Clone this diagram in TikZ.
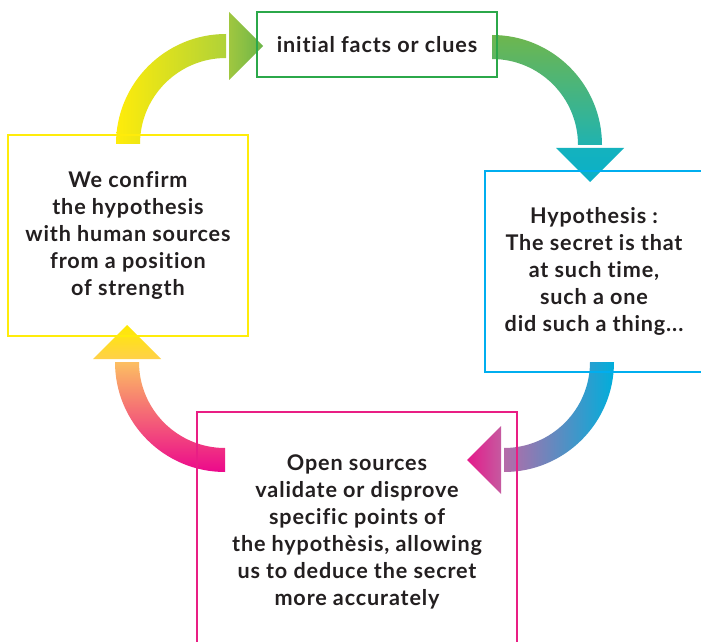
\documentclass[tikz,border=0pt]{standalone}
\usepackage{fontspec}
\setmainfont{Lato}[Ligatures=NoCommon, LetterSpace=4]
\usetikzlibrary{calc}
\definecolor{cycle-text}{RGB}{35, 31, 32}
\definecolor{cycle-green}{RGB}{43, 168, 74}
\definecolor{cycle-yellow}{RGB}{255, 236, 10}
\definecolor{cycle-blue}{RGB}{0, 174, 239}
\definecolor{cycle-magenta}{RGB}{233, 30, 132}

\begin{document}
\begin{tikzpicture}[x=1pt, y=1pt,
    stage/.style={draw, line width=2pt, text=cycle-text, align=center, inner sep=0pt,
      font=\fontsize{21.6}{27}\selectfont\bfseries}]
\clip (0,0) rectangle (701,641);
\fill[white] (0,0) rectangle (701,641);
\coordinate (c1) at (226,497);
\coordinate (c2) at (492,496);
\coordinate (c3) at (504,279);
\coordinate (c4) at (225,279);
\shade[left color=cycle-yellow, right color={rgb,255:red,176;green,210;blue,56}] (c1) ++(180:110) arc[start angle=180, end angle=90, radius=110] -- ++(0,-24) arc[start angle=90, end angle=180, radius=86] -- cycle;
\shade[left color={rgb,255:red,160;green,199;blue,63}, right color={rgb,255:red,108;green,181;blue,74}] ($(c1)+(3,64)$) -- ($(c1)+(3,132)$) -- ($(c1)+(37,98)$) -- cycle;
\shade[top color={rgb,255:red,110;green,182;blue,78}, bottom color={rgb,255:red,32;green,179;blue,176}] (c2) ++(90:110) arc[start angle=90, end angle=0, radius=110] -- ++(-24,0) arc[start angle=0, end angle=90, radius=86] -- cycle;
\shade[top color={rgb,255:red,20;green,178;blue,190}, bottom color={rgb,255:red,10;green,176;blue,200}] ($(c2)+(64,-3)$) -- ($(c2)+(132,-3)$) -- ($(c2)+(98,-37)$) -- cycle;
\shade[right color={rgb,255:red,0;green,174;blue,219}, left color={rgb,255:red,182;green,107;blue,168}] (c3) ++(0:110) arc[start angle=0, end angle=-90, radius=110] -- ++(0,24) arc[start angle=-90, end angle=0, radius=86] -- cycle;
\shade[left color={rgb,255:red,229;green,25;blue,138}, right color={rgb,255:red,197;green,90;blue,160}] ($(c3)+(-3,-64)$) -- ($(c3)+(-3,-132)$) -- ($(c3)+(-37,-98)$) -- cycle;
\shade[bottom color={rgb,255:red,236;green,8;blue,140}, top color={rgb,255:red,252;green,191;blue,98}] (c4) ++(270:110) arc[start angle=270, end angle=180, radius=110] -- ++(24,0) arc[start angle=180, end angle=270, radius=86] -- cycle;
\shade[bottom color={rgb,255:red,255;green,208;blue,74}, top color={rgb,255:red,255;green,234;blue,0}] ($(c4)+(-64,3)$) -- ($(c4)+(-132,3)$) -- ($(c4)+(-98,37)$) -- cycle;
\node[stage, draw=cycle-green, line width=1.2pt, minimum width=240pt, minimum height=65pt] (clues) at (377,596.5) {initial facts or clues};
\node[stage, draw=cycle-blue, minimum width=218pt, minimum height=201pt] (hypothesis) at (594,369.5) {Hypothesis :\\The secret is that\\at such time,\\such a one\\did such a thing...};
\node[stage, draw=cycle-magenta, line width=2.5pt, minimum width=320pt, minimum height=239pt] (opensrc) at (357,109.5) {Open sources\\validate or disprove\\specific points of\\the hypothèsis, allowing\\us to deduce the secret\\more accurately};
\node[stage, draw=cycle-yellow, minimum width=240pt, minimum height=201pt] (confirm) at (128,405.5) {We confirm\\the hypothesis\\with human sources\\from a position\\of strength};
\end{tikzpicture}
\end{document}
